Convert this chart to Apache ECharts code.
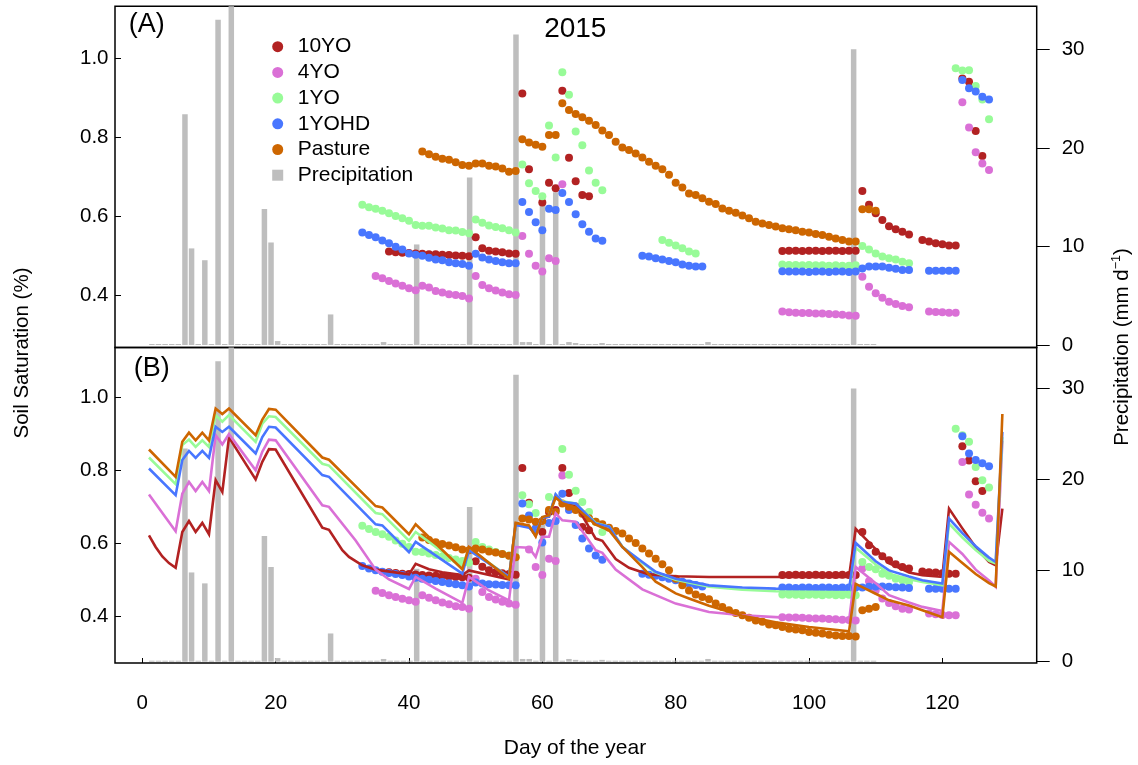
<!DOCTYPE html>
<html><head><meta charset="utf-8">
<script src="https://cdn.jsdelivr.net/npm/echarts@6/dist/echarts.min.js"></script>
<style>html,body{margin:0;padding:0;background:#fff}#c{width:1138px;height:765px}</style>
</head><body><div id="c"></div>
<script>
// ---------------- DATA ----------------
const xTicks = [0, 20, 40, 60, 80, 100, 120];
const satTicks = [0.4, 0.6, 0.8, 1.0];
const precipTicks = [0, 10, 20, 30];
const seriesNames = ['10YO', '4YO', '1YO', '1YOHD', 'Pasture'];
const colors = ['#B22222', '#DA70D6', '#98FB98', '#4876FF', '#CD6600'];

// Precipitation (mm/d), days 1..110 (days not listed = 0)
const precipDays = [6, 7, 9, 11, 13, 18, 19, 20, 28, 36, 41, 49, 56, 57, 58, 60, 62, 64, 65, 69, 85, 107];
const precipMm   = [23.4, 9.8, 8.6, 33.0, 36, 13.8, 10.4, 0.4, 3.1, 0.3, 10.2, 17.0, 31.5, 0.3, 0.3, 15.0, 15.5, 0.3, 0.2, 0.2, 0.3, 30.0];
const precipLastDay = 110;

// Panel A observations: [startDay, consecutive daily values]
const obsA_10YO = [[37,[0.512,0.510,0.509,0.508,0.507,0.506,0.505,0.505,0.504,0.503,0.502,0.501,0.500]],
  [50,[0.548,0.520,0.514,0.512,0.510,0.507,0.506]],
  [57,[0.912,0.720,null,0.636,0.686,0.672,0.919,0.749,0.690,0.655,0.652]],
  [96,[0.513,0.514,0.514,0.513,0.514,0.514,0.513,0.514,0.514,0.513,0.514,0.514]],
  [108,[0.665,0.630,0.609,0.592,0.576,0.568,0.562,0.555]],
  [117,[0.541,0.537,0.533,0.530,0.527,0.527]],
  [123,[0.950,0.942,0.817,0.754]]];
const obsA_4YO = [[35,[0.450,0.444,0.437,0.431,0.425,0.419,0.414,0.425,0.421,0.412,0.408,0.404,0.402,0.399,0.393]],
  [50,[0.450,0.427,0.419,0.413,0.408,0.404,0.402]],
  [57,[0.551,0.506,0.476,0.461,0.495,0.488,0.682]],
  [96,[0.360,0.358,0.357,0.356,0.356,0.355,0.355,0.354,0.353,0.352,0.350,0.349]],
  [108,[0.448,0.423,0.406,0.395,0.385,0.379,0.374,0.371]],
  [118,[0.360,0.359,0.358,0.357,0.357]],
  [123,[0.890,0.826,0.763,0.735,0.718]]];
const obsA_1YO = [[33,[0.630,0.624,0.620,0.615,0.609,0.602,0.596,0.590,0.579,0.577,0.577,0.573,0.570,0.566,0.565,0.561,0.558]],
  [50,[0.593,0.585,0.578,0.574,0.571,0.566,0.560]],
  [57,[0.732,0.685,0.665,0.652,0.831,0.750,0.966,0.909,0.816,0.781,0.717,0.686,0.667]],
  [78,[0.541,0.534,0.527,0.520,0.512,0.507]],
  [96,[0.479,0.478,0.478,0.477,0.478,0.477,0.477,0.476,0.477,0.476,0.476,0.477]],
  [108,[0.526,0.517,0.507,0.499,0.495,0.492,0.486,0.482]],
  [122,[0.976,0.970,0.971,0.931,0.897,0.847]]];
const obsA_1YOHD = [[33,[0.560,0.554,0.548,0.540,0.533,0.524,0.517,0.507,0.504,0.501,0.496,0.492,0.490,0.485,0.482,0.480,0.476]],
  [50,[0.506,0.497,0.492,0.488,0.485,0.482,0.482]],
  [57,[0.637,0.612,0.586,0.566,0.620,0.617,0.660,0.637,0.606,0.581,0.562,0.545,0.539]],
  [75,[0.501,0.499,0.495,0.492,0.488,0.485,0.479,0.476,0.474,0.474]],
  [96,[0.462,0.461,0.461,0.461,0.460,0.461,0.461,0.460,0.461,0.461,0.460,0.461]],
  [108,[0.469,0.474,0.474,0.474,0.471,0.468,0.465,0.465]],
  [118,[0.463,0.463,0.463,0.463,0.463]],
  [123,[0.946,0.925,0.917,0.904,0.897]]];
const obsA_Pasture = [[42,[0.765,0.758,0.752,0.747,0.744,0.738,0.731,0.729,0.735,0.735,0.729,0.727,0.722,0.714,0.716]],
  [57,[0.796,0.788,0.782,0.777,0.807,0.807,0.887,0.870,0.860,0.852,0.843,0.832,0.818,0.807,0.790,0.775,0.769,0.760,0.750,0.739,
       0.729,0.720,0.706,0.686,0.674,0.659,0.655,0.647,0.638,0.632,0.621,0.615,0.610,0.603,0.596,0.587,0.583,0.579,0.575,0.571,
       0.568,0.566,0.562,0.560,0.556,0.554,0.549,0.545,0.541,0.537,0.537]],
  [108,[0.619,0.619,0.615]]];

// Panel B observations
const obsB_10YO = [[37,[0.520,0.518,0.516,0.515,0.514,0.512,0.511,0.510,0.509,0.508,0.507,0.506,0.505]],
  [50,[0.550,0.535,0.525,0.520,0.517,0.515,0.513]],
  [57,[0.805,0.710,null,0.630,0.685,0.690,0.805,0.737,0.700,0.644,0.635]],
  [96,[0.512,0.512,0.513,0.512,0.512,0.513,0.512,0.512,0.512,0.513,0.512,0.512]],
  [108,[0.630,0.594,0.576,0.564,0.553,0.542,0.534,0.530]],
  [117,[0.522,0.520,0.519,0.517,0.516,0.516]],
  [123,[0.865,0.826,0.769,0.742]]];
const obsB_4YO = [[35,[0.469,0.463,0.457,0.452,0.447,0.443,0.439,0.457,0.450,0.443,0.437,0.432,0.427,0.425,0.420]],
  [50,[0.502,0.466,0.452,0.445,0.439,0.434,0.431]],
  [58,[0.582,0.534,0.512,0.557,0.551,0.785]],
  [96,[0.397,0.396,0.396,0.395,0.394,0.393,0.393,0.392,0.391,0.390,0.389,0.388]],
  [108,[0.530,0.495,0.470,0.448,0.436,0.427,0.420,0.418]],
  [118,[0.407,0.405,0.403,0.402,0.402]],
  [123,[0.822,0.733,0.705,0.683,0.667]]];
const obsB_1YO = [[33,[0.647,0.638,0.630,0.624,0.617,0.607,0.598,0.589,0.576,0.575,0.571,0.567,0.563,0.559,0.555,0.551,0.546]],
  [50,[0.603,0.589,0.582,0.575,0.570,0.566,0.562]],
  [57,[0.731,0.706,0.682,null,0.726,null,0.857,0.787,0.743,0.712,0.685,0.658,0.630]],
  [96,[0.459,0.458,0.458,0.457,0.458,0.458,0.457,0.458,0.457,0.457,0.458,0.457]],
  [108,[0.548,0.534,0.528,0.516,0.510,0.502,0.498,0.493]],
  [122,[0.913,0.895,0.877,0.808,0.772,0.752]]];
const obsB_1YOHD = [[33,[0.537,0.530,0.525,0.521,0.518,0.515,0.512,0.508,0.505,0.502,0.499,0.496,0.493,0.490,0.487,0.484,0.481]],
  [50,[0.492,0.489,0.487,0.486,0.485,0.484,0.484]],
  [57,[0.708,0.675,0.640,0.601,0.655,0.660,0.735,0.690,0.649,0.612,0.585,0.566,0.554]],
  [75,[0.516,0.513,0.510,0.506,0.502,0.498,0.494,0.489,0.485,0.481]],
  [96,[0.478,0.478,0.477,0.478,0.478,0.477,0.478,0.478,0.477,0.478,0.478,0.478]],
  [108,[0.478,0.480,0.481,0.481,0.480,0.479,0.478,0.477]],
  [118,[0.475,0.475,0.475,0.475,0.475]],
  [123,[0.892,0.845,0.827,0.818,0.810]]];
const obsB_Pasture = [[42,[0.615,0.608,0.602,0.597,0.593,0.588,0.582,0.580,0.585,0.582,0.577,0.574,0.570,0.565,0.561]],
  [57,[0.667,0.664,0.658,0.660,0.690,0.685,0.708,0.699,0.690,0.680,0.668,0.658,0.651,0.642,0.633,0.626,0.612,0.600,0.585,0.571,
       0.557,0.542,0.525,0.502,0.484,0.470,0.459,0.452,0.446,0.434,0.425,0.416,0.408,0.402,0.395,0.388,0.384,0.377,0.375,0.370,
       0.365,0.363,0.361,0.356,0.354,0.352,0.349,0.347,0.345,0.345,0.344]],
  [108,[0.416,0.420,0.425]]];

// Panel B model (line vertices: [day, saturation])
const model_10YO = [[1,0.621],[2,0.589],[3,0.563],[4,0.545],[5,0.532],[6,0.630],[7,0.660],[8,0.630],[9,0.655],[10,0.624],[11,0.772],[12,0.740],[13,0.889],[17,0.774],[18,0.822],[19,0.857],[20,0.856],[27,0.642],[28,0.636],[30,0.580],[31,0.562],[33,0.539],[35,0.527],[40,0.514],[41,0.543],[43,0.528],[45,0.520],[48,0.512],[49,0.525],[55,0.500],[56,0.652],[58,0.645],[59,0.620],[60,0.668],[61,0.672],[62,0.731],[63,0.712],[65,0.706],[68,0.612],[69,0.606],[71,0.556],[73,0.532],[76,0.514],[80,0.509],[85,0.507],[106,0.507],[107,0.639],[110,0.583],[112,0.545],[115,0.519],[117,0.512],[120,0.507],[121,0.694],[123,0.640],[125,0.588],[127,0.548],[128,0.539],[129,0.694]];
const model_4YO = [[1,0.733],[5,0.632],[6,0.735],[7,0.767],[8,0.742],[9,0.767],[10,0.742],[11,0.895],[12,0.870],[13,0.898],[17,0.799],[18,0.850],[19,0.883],[20,0.881],[27,0.703],[28,0.699],[32,0.607],[35,0.527],[37,0.500],[40,0.474],[41,0.507],[44,0.475],[48,0.436],[49,0.507],[52,0.470],[55,0.443],[56,0.589],[58,0.587],[59,0.562],[60,0.617],[61,0.617],[62,0.681],[63,0.662],[65,0.658],[68,0.580],[69,0.573],[71,0.527],[75,0.473],[80,0.434],[85,0.411],[90,0.402],[95,0.397],[106,0.386],[107,0.534],[110,0.490],[112,0.457],[115,0.437],[117,0.425],[120,0.414],[121,0.603],[123,0.570],[125,0.527],[127,0.497],[128,0.480],[129,0.880]];
const model_1YO = [[1,0.834],[5,0.761],[6,0.868],[7,0.883],[8,0.863],[9,0.881],[10,0.863],[11,0.950],[12,0.932],[13,0.950],[17,0.877],[18,0.927],[19,0.947],[20,0.945],[27,0.817],[28,0.812],[35,0.682],[36,0.679],[40,0.606],[41,0.630],[48,0.535],[49,0.585],[55,0.507],[56,0.650],[58,0.645],[59,0.622],[60,0.670],[61,0.674],[62,0.732],[63,0.714],[65,0.708],[68,0.655],[70,0.645],[72,0.590],[75,0.545],[77,0.519],[80,0.499],[85,0.480],[90,0.472],[95,0.468],[106,0.466],[107,0.587],[110,0.541],[112,0.516],[115,0.501],[117,0.493],[120,0.484],[121,0.653],[123,0.615],[125,0.581],[127,0.551],[128,0.544],[129,0.890]];
const model_1YOHD = [[1,0.804],[5,0.731],[6,0.827],[7,0.852],[8,0.833],[9,0.852],[10,0.833],[11,0.918],[12,0.904],[13,0.918],[17,0.845],[18,0.890],[19,0.918],[20,0.916],[27,0.786],[28,0.781],[35,0.651],[36,0.648],[40,0.575],[41,0.603],[48,0.516],[49,0.580],[55,0.507],[56,0.649],[58,0.642],[59,0.626],[60,0.670],[61,0.673],[62,0.733],[63,0.712],[65,0.708],[68,0.653],[70,0.645],[72,0.589],[75,0.548],[77,0.521],[80,0.502],[85,0.484],[90,0.478],[95,0.475],[106,0.473],[107,0.600],[110,0.550],[112,0.525],[115,0.508],[117,0.498],[120,0.489],[121,0.667],[123,0.627],[125,0.591],[127,0.560],[128,0.548],[129,0.904]];
const model_Pasture = [[1,0.856],[5,0.781],[6,0.877],[7,0.902],[8,0.881],[9,0.902],[10,0.881],[11,0.968],[12,0.953],[13,0.968],[17,0.895],[18,0.938],[19,0.967],[20,0.965],[27,0.834],[28,0.828],[35,0.701],[36,0.697],[40,0.624],[41,0.651],[48,0.528],[49,0.589],[55,0.502],[56,0.655],[58,0.648],[59,0.618],[60,0.671],[61,0.676],[62,0.724],[63,0.709],[65,0.697],[68,0.650],[70,0.635],[72,0.589],[75,0.534],[77,0.494],[80,0.462],[82,0.448],[85,0.428],[90,0.401],[95,0.383],[100,0.370],[106,0.358],[107,0.488],[110,0.461],[112,0.443],[115,0.429],[117,0.416],[120,0.397],[121,0.576],[123,0.545],[125,0.515],[127,0.490],[128,0.481],[129,0.953]];

// ---------------- BUILD ----------------
function expand(segs) {
  const out = [];
  segs.forEach(([start, vals]) => vals.forEach((v, i) => { if (v !== null) out.push([start + i, v]); }));
  return out;
}
const precipDaily = [];
for (let d = 1; d <= precipLastDay; d++) {
  const k = precipDays.indexOf(d);
  precipDaily.push([d, k >= 0 ? precipMm[k] : 0]);
}
const obsA = [obsA_10YO, obsA_4YO, obsA_1YO, obsA_1YOHD, obsA_Pasture];
const obsB = [obsB_10YO, obsB_4YO, obsB_1YO, obsB_1YOHD, obsB_Pasture];
const models = [model_10YO, model_4YO, model_1YO, model_1YOHD, model_Pasture];

const FONT = '"Liberation Sans", Arial, Helvetica, sans-serif';
const chart = echarts.init(document.getElementById('c'), null, {renderer: 'canvas'});

const GL = 115, GW = 921.7;
const gridA = {left: GL, top: 6.3, width: GW, height: 341.2};
const gridB = {left: GL, top: 347.5, width: GW, height: 315.5};
const XMIN = -4.095, XMAX = 134.15;
// precipitation bars sit on a slightly shifted day scale in the original figure
const BXMIN = -4.567, BXMAX = 134.65;

const series = [];
[0, 1].forEach(g => series.push({
  type: 'bar', name: 'Precipitation', xAxisIndex: g === 0 ? 2 : 3, yAxisIndex: g === 0 ? 1 : 3,
  data: precipDaily, barWidth: 5.5, barMinHeight: 1, itemStyle: {color: '#BEBEBE'},
  z: 1, silent: true, animation: false
}));
obsA.forEach((s, i) => series.push({
  type: 'scatter', name: seriesNames[i], xAxisIndex: 0, yAxisIndex: 0, data: expand(s),
  symbol: 'circle', symbolSize: 8, itemStyle: {color: colors[i], opacity: 1}, z: 2, silent: true, animation: false
}));
obsB.forEach((s, i) => series.push({
  type: 'scatter', name: seriesNames[i], xAxisIndex: 1, yAxisIndex: 2, data: expand(s),
  symbol: 'circle', symbolSize: 8, itemStyle: {color: colors[i], opacity: 1}, z: 2, silent: true, animation: false
}));
models.forEach((s, i) => series.push({
  type: 'line', name: seriesNames[i], xAxisIndex: 1, yAxisIndex: 2, data: s,
  showSymbol: false, symbol: 'none', lineStyle: {color: colors[i], width: 2.6, join: 'miter'},
  itemStyle: {color: colors[i]}, z: 3, silent: true, animation: false, clip: true
}));

const tickLabel = {fontSize: 20.5, color: '#000', fontFamily: FONT};
const noLine = {show: false, onZero: false};

const option = {
  animation: false,
  backgroundColor: '#fff',
  grid: [Object.assign({show: true, borderColor: '#000', borderWidth: 1.5, backgroundColor: 'transparent'}, gridA),
         Object.assign({show: true, borderColor: '#000', borderWidth: 1.5, backgroundColor: 'transparent'}, gridB)],
  xAxis: [
    {type: 'value', gridIndex: 0, min: XMIN, max: XMAX, axisLine: noLine, axisTick: {show: false}, axisLabel: {show: false}, splitLine: {show: false}},
    {type: 'value', gridIndex: 1, min: XMIN, max: XMAX, position: 'bottom', axisLine: noLine,
      axisTick: {show: true, inside: true, length: 5, customValues: xTicks, lineStyle: {color: '#000', width: 1}},
      axisLabel: Object.assign({show: true, margin: 30, customValues: xTicks}, tickLabel), splitLine: {show: false}},
    {type: 'value', gridIndex: 0, min: BXMIN, max: BXMAX, show: false, axisLine: noLine},
    {type: 'value', gridIndex: 1, min: BXMIN, max: BXMAX, show: false, axisLine: noLine}
  ],
  yAxis: [
    {type: 'value', gridIndex: 0, position: 'left', min: 0.2689, max: 1.1327, axisLine: noLine,
      axisTick: {show: true, inside: true, length: 6, customValues: satTicks, lineStyle: {color: '#000'}},
      axisLabel: Object.assign({margin: 6.5, customValues: satTicks, formatter: v => v.toFixed(1)}, tickLabel), splitLine: {show: false}},
    {type: 'value', gridIndex: 0, position: 'right', min: -0.254, max: 34.36, axisLine: noLine,
      axisTick: {show: true, inside: false, length: 13, customValues: precipTicks, lineStyle: {color: '#000'}},
      axisLabel: Object.assign({margin: 25, customValues: precipTicks}, tickLabel), splitLine: {show: false}},
    {type: 'value', gridIndex: 1, position: 'left', min: 0.2714, max: 1.1352, axisLine: noLine,
      axisTick: {show: true, inside: true, length: 6, customValues: satTicks, lineStyle: {color: '#000'}},
      axisLabel: Object.assign({margin: 6.5, customValues: satTicks, formatter: v => v.toFixed(1)}, tickLabel), splitLine: {show: false}},
    {type: 'value', gridIndex: 1, position: 'right', min: -0.143, max: 34.5, axisLine: noLine,
      axisTick: {show: true, inside: false, length: 13, customValues: precipTicks, lineStyle: {color: '#000'}},
      axisLabel: Object.assign({margin: 25, customValues: precipTicks}, tickLabel), splitLine: {show: false}}
  ],
  legend: {
    data: [{name: '10YO', icon: 'circle'}, {name: '4YO', icon: 'circle'}, {name: '1YO', icon: 'circle'},
           {name: '1YOHD', icon: 'circle'}, {name: 'Pasture', icon: 'circle'}, {name: 'Precipitation', icon: 'rect'}],
    orient: 'vertical', left: 272.2, top: 35.7, padding: 0, itemWidth: 11, itemHeight: 11, itemGap: 3.7,
    selectedMode: false,
    textStyle: {fontSize: 21, color: '#000', fontFamily: FONT, lineHeight: 22, padding: [0, 0, 0, 9.5]}
  },
  graphic: [
    {type: 'text', x: 575.3, y: 29.5, style: {text: '2015', fontSize: 28, fill: '#000', fontFamily: FONT, textAlign: 'center', textVerticalAlign: 'middle'}},
    {type: 'text', x: 146.7, y: 25, style: {text: '(A)', fontSize: 27, fill: '#000', fontFamily: FONT, textAlign: 'center', textVerticalAlign: 'middle'}},
    {type: 'text', x: 151.7, y: 368.3, style: {text: '(B)', fontSize: 27, fill: '#000', fontFamily: FONT, textAlign: 'center', textVerticalAlign: 'middle'}},
    {type: 'text', x: 575, y: 748, style: {text: 'Day of the year', fontSize: 21, fill: '#000', fontFamily: FONT, textAlign: 'center', textVerticalAlign: 'middle'}},
    {type: 'text', x: 22, y: 353, rotation: Math.PI / 2, style: {text: 'Soil Saturation (%)', fontSize: 20.5, fill: '#000', fontFamily: FONT, textAlign: 'center', textVerticalAlign: 'middle'}},
    {type: 'text', x: 1122, y: 347, rotation: Math.PI / 2, style: {text: 'Precipitation (mm d{sup|\u22121})', fontSize: 20.5, fill: '#000', fontFamily: FONT, textAlign: 'center', textVerticalAlign: 'middle',
      rich: {sup: {fontSize: 12.5, fontFamily: FONT, fill: '#000', padding: [0, 0, 10, 0]}}}}
  ],
  series: series
};
chart.setOption(option);
</script></body></html>
